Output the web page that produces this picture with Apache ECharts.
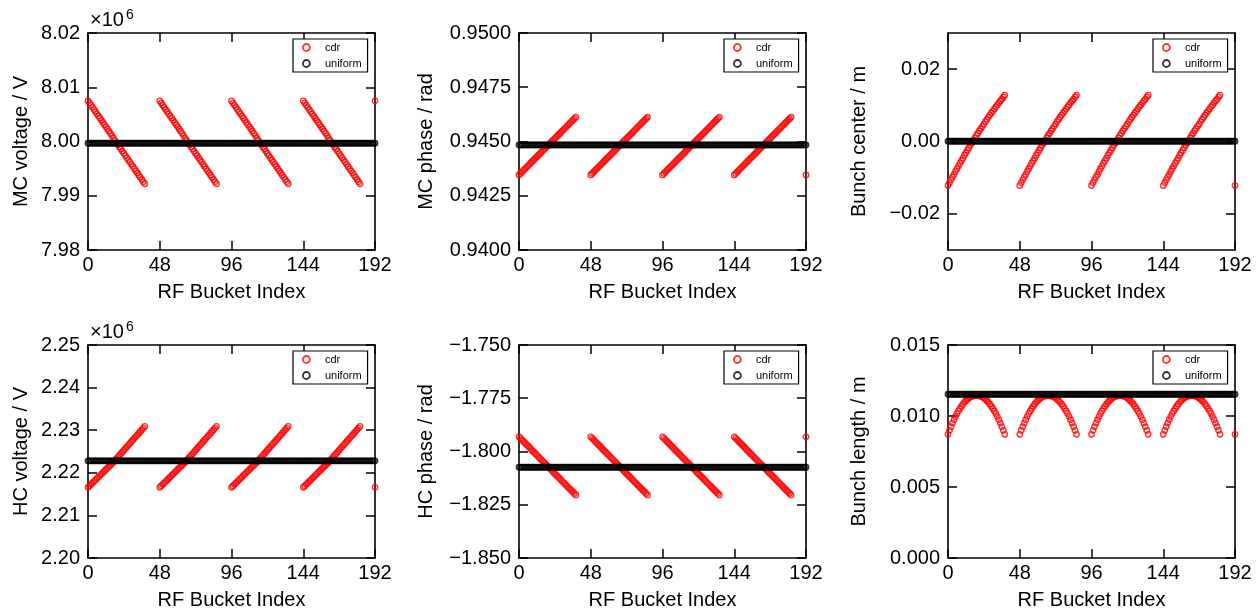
<!DOCTYPE html>
<html>
<head>
<meta charset="utf-8">
<script src="https://cdn.jsdelivr.net/npm/echarts@6/dist/echarts.min.js"></script>
<style>
html,body{margin:0;padding:0;background:#fff;}
#chart{width:1256px;height:611px;}
</style>
</head>
<body>
<div id="chart"></div>
<script>
// ---- Data ----
const xTicks = [0, 48, 96, 144, 192];
const trainStarts = [0, 48, 96, 144, 192];
const lastBucket = 192;

// one bunch train (39 filled buckets), repeated at every train start
const mcVoltageCdr = [8.0075,8.0071,8.0067,8.0063,8.0059,8.0055,8.0051,8.0047,8.0043,8.0039,8.0035,8.0031,8.0027,8.0023,8.0019,8.0015,8.0011,8.0006,8.0002,7.9998,7.9994,7.9990,7.9986,7.9982,7.9978,7.9974,7.9970,7.9966,7.9962,7.9958,7.9954,7.9950,7.9946,7.9942,7.9938,7.9934,7.9930,7.9926,7.9922];
const mcVoltageUniform = 7.9997;

const mcPhaseCdr = [0.94346,0.94353,0.94360,0.94367,0.94374,0.94381,0.94388,0.94395,0.94402,0.94409,0.94416,0.94423,0.94430,0.94437,0.94444,0.94451,0.94458,0.94465,0.94472,0.94479,0.94486,0.94493,0.94500,0.94507,0.94514,0.94521,0.94528,0.94535,0.94542,0.94549,0.94556,0.94563,0.94570,0.94577,0.94584,0.94591,0.94598,0.94605,0.94612];
const mcPhaseUniform = 0.94484;

const bunchCenterCdr = [-0.0122,-0.0114,-0.0106,-0.0098,-0.0091,-0.0083,-0.0075,-0.0068,-0.0060,-0.0053,-0.0046,-0.0038,-0.0031,-0.0024,-0.0017,-0.0010,-0.0004,0.0003,0.0010,0.0017,0.0023,0.0030,0.0036,0.0042,0.0048,0.0055,0.0061,0.0067,0.0073,0.0079,0.0084,0.0090,0.0096,0.0101,0.0107,0.0112,0.0117,0.0123,0.0128];
const bunchCenterUniform = 0.0001;

const hcVoltageCdr = [2.2166,2.2169,2.2173,2.2176,2.2180,2.2183,2.2187,2.2190,2.2194,2.2197,2.2201,2.2204,2.2208,2.2211,2.2215,2.2218,2.2222,2.2225,2.2229,2.2233,2.2237,2.2241,2.2245,2.2249,2.2253,2.2257,2.2261,2.2265,2.2269,2.2273,2.2277,2.2281,2.2285,2.2289,2.2293,2.2297,2.2301,2.2305,2.2309];
const hcVoltageUniform = 2.2228;

const hcPhaseCdr = [-1.7931,-1.7938,-1.7945,-1.7953,-1.7960,-1.7967,-1.7974,-1.7981,-1.7989,-1.7996,-1.8003,-1.8010,-1.8017,-1.8025,-1.8032,-1.8039,-1.8046,-1.8053,-1.8061,-1.8068,-1.8075,-1.8082,-1.8089,-1.8097,-1.8104,-1.8111,-1.8118,-1.8125,-1.8133,-1.8140,-1.8147,-1.8154,-1.8161,-1.8169,-1.8176,-1.8183,-1.8190,-1.8197,-1.8204];
const hcPhaseUniform = -1.8074;

const bunchLengthCdr = [0.00871,0.00899,0.00925,0.00950,0.00974,0.00996,0.01017,0.01036,0.01053,0.01069,0.01083,0.01096,0.01108,0.01118,0.01126,0.01133,0.01138,0.01142,0.01144,0.01145,0.01144,0.01142,0.01138,0.01133,0.01126,0.01118,0.01108,0.01096,0.01083,0.01069,0.01053,0.01036,0.01017,0.00996,0.00974,0.00950,0.00925,0.00899,0.00871];
const bunchLengthUniform = 0.01153;

const bunchCenterTicks = [-0.02, 0, 0.02];

// ---- Layout ----
const FONT = '"Liberation Sans", Arial, sans-serif';
const colLeft = [88, 519, 948];
const rowTop = [33, 345];
const plotW = 287, plotH = 217;

const panels = [
  {title:'MC voltage / V', cdr: mcVoltageCdr, uni: mcVoltageUniform, min:7.98, max:8.02, interval:0.01, dec:2, nameGap:57, sci:true, col:0, row:0},
  {title:'MC phase / rad', cdr: mcPhaseCdr, uni: mcPhaseUniform, min:0.94, max:0.95, interval:0.0025, dec:4, nameGap:83, col:1, row:0},
  {title:'Bunch center / m', cdr: bunchCenterCdr, uni: bunchCenterUniform, min:-0.03, max:0.03, interval:0.01, dec:2, nameGap:79, custom: bunchCenterTicks, col:2, row:0},
  {title:'HC voltage / V', cdr: hcVoltageCdr, uni: hcVoltageUniform, min:2.20, max:2.25, interval:0.01, dec:2, nameGap:57, sci:true, col:0, row:1},
  {title:'HC phase / rad', cdr: hcPhaseCdr, uni: hcPhaseUniform, min:-1.85, max:-1.75, interval:0.025, dec:3, nameGap:83, col:1, row:1},
  {title:'Bunch length / m', cdr: bunchLengthCdr, uni: bunchLengthUniform, min:0, max:0.015, interval:0.005, dec:3, nameGap:79, col:2, row:1}
];

function cdrPoints(pattern) {
  const pts = [];
  trainStarts.forEach(s => pattern.forEach((v, k) => { if (s + k <= lastBucket) pts.push([s + k, v]); }));
  return pts;
}
function uniformPoints(u) {
  const pts = [];
  for (let i = 0; i <= lastBucket; i++) pts.push([i, u]);
  return pts;
}
function fmt(dec) {
  return v => (v < -1e-12 ? '\u2212' : '') + Math.abs(v).toFixed(dec);
}

const grid = [], xAxis = [], yAxis = [], series = [], legend = [], graphic = [];
const lineStyle = {color:'#000', width:1.6};
const tickStyle = {color:'#000', width:1.5};

panels.forEach((p, i) => {
  const left = colLeft[p.col], top = rowTop[p.row];
  grid.push({left: left, top: top, width: plotW, height: plotH, containLabel: false});
  xAxis.push({type:'value', gridIndex:i, min:0, max:192, interval:48, position:'bottom',
    name:'RF Bucket Index', nameLocation:'middle', nameGap:32,
    nameTextStyle:{fontSize:20, color:'#000', fontFamily:FONT},
    axisLine:{show:true, onZero:false, lineStyle:lineStyle},
    axisTick:{show:true, inside:true, length:9, lineStyle:tickStyle},
    axisLabel:{show:true, fontSize:20, color:'#000', fontFamily:FONT, margin:5},
    splitLine:{show:false}});
  xAxis.push({type:'value', gridIndex:i, min:0, max:192, interval:48, position:'top',
    axisLine:{show:true, onZero:false, lineStyle:lineStyle},
    axisTick:{show:true, inside:true, length:9, lineStyle:tickStyle},
    axisLabel:{show:false}, splitLine:{show:false}});
  const tickExtra = p.custom ? {customValues: p.custom} : {};
  yAxis.push({type:'value', gridIndex:i, min:p.min, max:p.max, interval:p.interval, position:'left',
    name:p.title, nameLocation:'middle', nameGap:p.nameGap,
    nameTextStyle:{fontSize:20, color:'#000', fontFamily:FONT},
    axisLine:{show:true, onZero:false, lineStyle:lineStyle},
    axisTick:Object.assign({show:true, inside:true, length:9, lineStyle:tickStyle}, tickExtra),
    axisLabel:Object.assign({show:true, fontSize:20, color:'#000', fontFamily:FONT, margin:8, formatter:fmt(p.dec)}, tickExtra),
    splitLine:{show:false}});
  yAxis.push({type:'value', gridIndex:i, min:p.min, max:p.max, interval:p.interval, position:'right',
    axisLine:{show:true, onZero:false, lineStyle:lineStyle},
    axisTick:Object.assign({show:true, inside:true, length:9, lineStyle:tickStyle}, tickExtra),
    axisLabel:{show:false}, splitLine:{show:false}});

  series.push({type:'scatter', name:'cdr', xAxisIndex:2*i, yAxisIndex:2*i,
    data: cdrPoints(p.cdr), symbol:'circle', symbolSize:5.4, z:2,
    itemStyle:{color:'rgba(0,0,0,0)', borderColor:'#ff0000', borderWidth:1.4},
    emphasis:{disabled:true}, animation:false});
  series.push({type:'scatter', name:'uniform', xAxisIndex:2*i, yAxisIndex:2*i,
    data: uniformPoints(p.uni), symbol:'circle', symbolSize:5.4, z:3,
    itemStyle:{color:'rgba(0,0,0,0)', borderColor:'#000000', borderWidth:1.4},
    emphasis:{disabled:true}, animation:false});

  legend.push({
    left: left + plotW - 6 - 76, top: top + 6,
    orient:'vertical', selectedMode:false,
    backgroundColor:'#fff', borderColor:'#000', borderWidth:1.2, borderRadius:0,
    padding:[3, 6, 3, 9], itemGap:5, itemWidth:27, itemHeight:7,
    textStyle:{fontSize:11, color:'#000', fontFamily:FONT},
    data:[
      {name:'cdr', icon:'circle', itemStyle:{color:'rgba(0,0,0,0)', borderColor:'#ff0000', borderWidth:1.8}},
      {name:'uniform', icon:'circle', itemStyle:{color:'rgba(0,0,0,0)', borderColor:'#000000', borderWidth:1.8}}
    ]
  });

  if (p.sci) {
    graphic.push({type:'text', left: left + 2, top: top - 23,
      style:{text:'\u00d710', fontSize:20, fill:'#000', fontFamily:FONT}});
    graphic.push({type:'text', left: left + 38, top: top - 25,
      style:{text:'6', fontSize:14, fill:'#000', fontFamily:FONT}});
  }
});

const chart = echarts.init(document.getElementById('chart'), null, {renderer:'canvas'});
chart.setOption({
  animation:false,
  backgroundColor:'#fff',
  textStyle:{fontFamily:FONT},
  grid, xAxis, yAxis, series, legend, graphic
});
</script>
</body>
</html>
